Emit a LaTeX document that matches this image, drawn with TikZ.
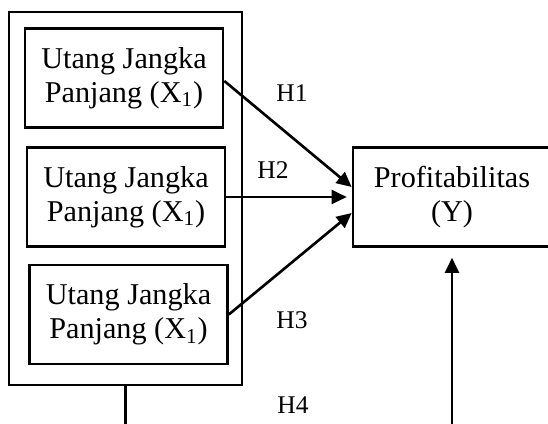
\documentclass[tikz,border=0pt]{standalone}
\usepackage{fontspec}
\setmainfont{Liberation Serif}
\usetikzlibrary{arrows.meta,positioning,calc}

\begin{document}
\begin{tikzpicture}[scale=1,
  box/.style={draw, line width=1.5pt, minimum width=3.96cm, minimum height=1.98cm,
    inner sep=0pt, align=center, font=\fontsize{17.2}{19.5}\selectfont},
  hlbl/.style={inner sep=0pt, font=\fontsize{14.5}{16}\selectfont},
  arr/.style={line width=1.5pt, -{Triangle[length=0.3cm,width=0.28cm]}}]
  \useasboundingbox (0,0) rectangle (10.96,8.48);
  \node [draw, line width=1.6pt, minimum width=4.66cm, minimum height=7.46cm, inner sep=0pt] (outer) at (2.51,4.51) {};
  \node [box] (x1) at (2.48,6.92) {Utang Jangka\\Panjang (X\textsubscript{1})};
  \node [box] (x2) at (2.52,4.54) {Utang Jangka\\Panjang (X\textsubscript{1})};
  \node [box] (x3) at (2.57,2.19) {Utang Jangka\\Panjang (X\textsubscript{1})};
  \node [box] (y) at (9.04,4.54) {Profitabilitas\\(Y)};
  \node [hlbl] (h1) at (5.84,6.62) {H1};
  \node [hlbl] (h2) at (5.46,5.08) {H2};
  \node [hlbl] (h3) at (5.84,2.08) {H3};
  \node [hlbl] (h4) at (5.86,0.38) {H4};
  \coordinate (o1) at (2.51,0);
  \coordinate (o2) at (9.04,0);
  \draw [arr] ([yshift=-0.06cm]x1.east) -- ([yshift=0.2cm]y.west);
  \draw [arr, shorten >=0.1cm] (x2.east) -- (y.west);
  \draw [arr] (x3.east) -- ([yshift=-0.32cm]y.west);
  \draw [line width=1.5pt] (outer.south) -- (o1);
  \draw [arr] (o2) -- ([yshift=-0.2cm]y.south);
\end{tikzpicture}
\end{document}
